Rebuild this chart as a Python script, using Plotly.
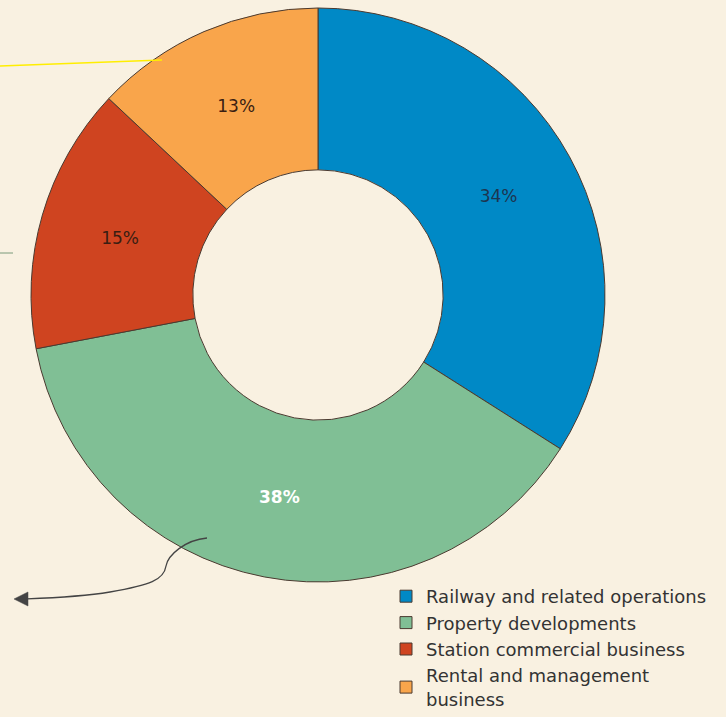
import plotly.graph_objects as go

W, H = 726, 717

labels = ["Railway and related operations", "Property developments",
          "Station commercial business", "Rental and management<br>business"]
values = [34, 38, 15, 13]
texts = ["34%", "38%", "15%", "13%"]
colors = ["#0089c6", "#80bf95", "#cf4420", "#f9a54b"]
text_colors = ["#1d3550", "#ffffff", "#3a1e12", "#3a1e12"]
text_weights = [400, 700, 400, 400]

def px(x, y):
    return x / W, 1 - y / H

cx, cy, R = 318, 295, 287
x0, y0 = px(cx - R, cy + R)
x1, y1 = px(cx + R, cy - R)

fig = go.Figure(go.Pie(
    labels=labels, values=values, text=texts,
    textinfo="text", texttemplate="%{text}",
    textposition="inside", insidetextorientation="horizontal",
    sort=False, direction="clockwise", rotation=0,
    hole=0.436,
    marker=dict(colors=colors, line=dict(color="#4a3a30", width=1)),
    textfont=dict(family="DejaVu Sans", size=17, color=text_colors, weight=text_weights),
    domain=dict(x=[x0, x1], y=[y0, y1]),
))

def path(segs):
    s = []
    for cmd, pts in segs:
        if not pts:
            s.append(cmd)
        else:
            coords = " ".join(f"{px(a, b)[0]:.5f},{px(a, b)[1]:.5f}" for a, b in pts)
            s.append(f"{cmd} {coords}")
    return " ".join(s)

shapes = [
    dict(type="line", xref="paper", yref="paper",
         x0=px(0, 66)[0], y0=px(0, 66)[1], x1=px(162, 60)[0], y1=px(162, 60)[1],
         line=dict(color="#ffee00", width=1.5)),
    dict(type="line", xref="paper", yref="paper",
         x0=px(0, 253)[0], y0=px(0, 253)[1], x1=px(13, 253)[0], y1=px(13, 253)[1],
         line=dict(color="#7a9a7a", width=1)),
    dict(type="path", xref="paper", yref="paper",
         path=path([("M", [(207, 538)]), ("C", [(185, 540), (168, 555), (166, 566)]),
                    ("C", [(164, 580), (150, 585), (110, 592)]),
                    ("C", [(80, 597), (50, 598), (24, 599)])]),
         line=dict(color="#444444", width=1.3)),
    dict(type="path", xref="paper", yref="paper",
         path=path([("M", [(14, 599)]), ("L", [(28, 592)]), ("L", [(28, 606)]), ("Z", [])]),
         fillcolor="#444444", line=dict(color="#444444", width=0.5)),
]

fig.update_layout(
    width=W, height=H, autosize=False,
    margin=dict(l=0, r=0, t=0, b=0),
    paper_bgcolor="#f9f1e1", plot_bgcolor="#f9f1e1",
    showlegend=True,
    legend=dict(x=px(386, 0)[0], y=0, xanchor="left", yanchor="bottom",
                font=dict(family="DejaVu Sans", size=18, color="#333333"),
                bgcolor="rgba(0,0,0,0)", tracegroupgap=0, itemwidth=30),
    shapes=shapes,
)

fig.write_html("out.html",
               config={"displayModeBar": False, "responsive": False},
               post_script="document.body.style.margin='0';document.body.style.overflow='hidden';document.body.style.background='#f9f1e1';")
